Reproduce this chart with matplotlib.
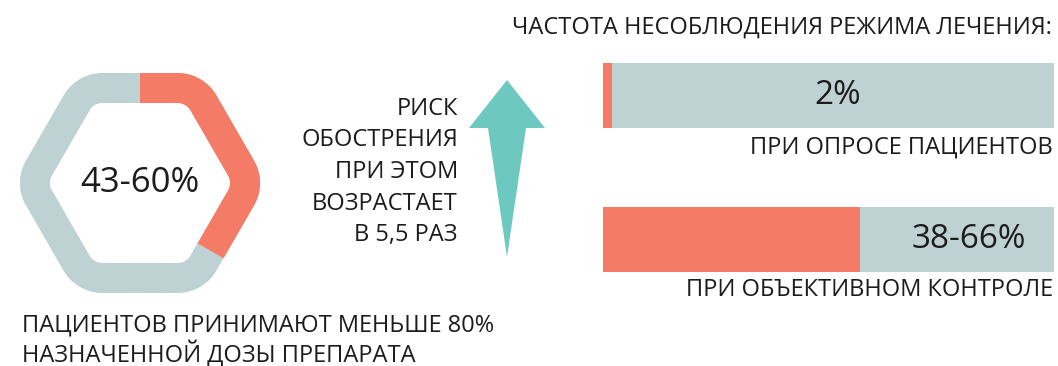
import numpy as np
import matplotlib.pyplot as plt
from matplotlib.patches import Polygon

plt.rcParams['font.family'] = ['Open Sans', 'DejaVu Sans']

ORANGE = '#F47B65'
GREY = '#BED1D3'
TEAL = '#6DC8BF'
INK = '#1E1B1C'

# share of patients taking less than 80% of the prescribed dose (ring fill)
dose_share = 0.37
dose_label = '43-60%'

# non-adherence rate by the way it is measured
methods = ['ПРИ ОПРОСЕ ПАЦИЕНТОВ', 'ПРИ ОБЪЕКТИВНОМ КОНТРОЛЕ']
rates = [0.02, 0.57]
rate_labels = ['2%', '38-66%']

risk_lines = ['РИСК', 'ОБОСТРЕНИЯ', 'ПРИ ЭТОМ', 'ВОЗРАСТАЕТ', 'В 5,5 РАЗ']

W, H = 1058, 366
fig = plt.figure(figsize=(W / 100, H / 100), dpi=100)
ax = fig.add_axes([0, 0, 1, 1])
ax.set_xlim(0, W)
ax.set_ylim(H, 0)
ax.axis('off')


def rounded_hexagon(cx, cy, apothem, corner, n=40):
    # flat-top hexagon centre line, starting at the top middle and going clockwise
    R = apothem / np.cos(np.pi / 6)
    d = R - corner / np.sin(np.pi / 3)
    pts = [(0.0, apothem)]
    for deg in [60, 0, -60, -120, 180, 120]:
        th = np.radians(deg)
        ox, oy = d * np.cos(th), d * np.sin(th)
        phi = np.linspace(th + np.pi / 6, th - np.pi / 6, n)
        pts += list(zip(ox + corner * np.cos(phi), oy + corner * np.sin(phi)))
    pts.append((0.0, apothem))
    pts = np.array(pts)
    return cx + pts[:, 0], cy - pts[:, 1]


hx, hy = rounded_hexagon(140, 183, 95, 30)
lw = 30 * 72 / 100
ax.plot(hx, hy, color=GREY, lw=lw, solid_joinstyle='round', solid_capstyle='butt')
seg = np.r_[0, np.cumsum(np.hypot(np.diff(hx), np.diff(hy)))]
cut = dose_share * seg[-1]
k = np.searchsorted(seg, cut)
t = (cut - seg[k - 1]) / (seg[k] - seg[k - 1])
ox = np.r_[hx[:k], hx[k - 1] + t * (hx[k] - hx[k - 1])]
oy = np.r_[hy[:k], hy[k - 1] + t * (hy[k] - hy[k - 1])]
ax.plot(ox, oy, color=ORANGE, lw=lw, solid_joinstyle='round', solid_capstyle='butt')
ax.text(140, 183, dose_label, ha='center', va='center', fontsize=25, color=INK)

ax.text(22, 325, 'ПАЦИЕНТОВ ПРИНИМАЮТ МЕНЬШЕ 80%', ha='left', va='center',
        fontsize=17, color=INK)
ax.text(22, 354, 'НАЗНАЧЕННОЙ ДОЗЫ ПРЕПАРАТА', ha='left', va='center',
        fontsize=17, color=INK)

# arrow
arrow = Polygon([(507, 80), (545, 128), (526, 128), (507, 257), (488, 128), (469, 128)],
                closed=True, facecolor=TEAL, edgecolor='none')
ax.add_patch(arrow)
for i, line in enumerate(risk_lines):
    ax.text(458, 109 + i * 31.5, line, ha='right', va='center', fontsize=17, color=INK)

ax.text(1052, 28, 'ЧАСТОТА НЕСОБЛЮДЕНИЯ РЕЖИМА ЛЕЧЕНИЯ:', ha='right', va='center',
        fontsize=17, color=INK)

# bars
bx0, bx1 = 603, 1054
by0, by1 = 63, 272
bax = fig.add_axes([bx0 / W, 1 - by1 / H, (bx1 - bx0) / W, (by1 - by0) / H])
bax.set_xlim(0, 1)
ypos = [0.5, 2.72]
bax.set_ylim(3.22, 0)
bax.axis('off')
bax.barh(ypos, [1] * len(rates), height=1, color=GREY)
bax.barh(ypos, rates, height=1, color=ORANGE)
bax.text(0.52, ypos[0], rate_labels[0], ha='center', va='center', fontsize=24, color=INK)
bax.text(0.81, ypos[1], rate_labels[1], ha='center', va='center', fontsize=24, color=INK)

ax.text(1053, 147, methods[0], ha='right', va='center', fontsize=17, color=INK)
ax.text(1053, 290, methods[1], ha='right', va='center', fontsize=17, color=INK)

fig.savefig('out.png', dpi=100, facecolor='white')
